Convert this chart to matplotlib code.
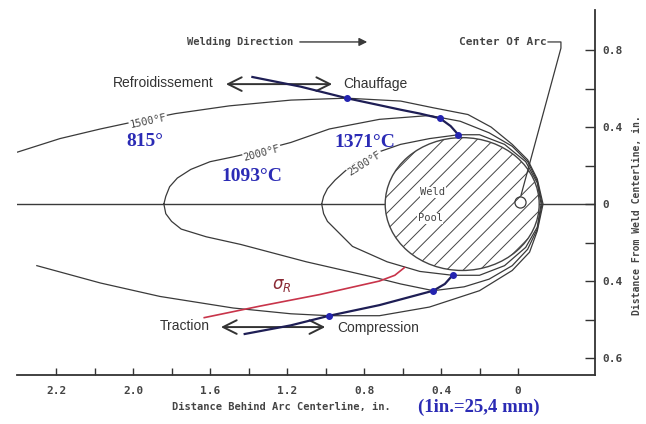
import matplotlib.pyplot as plt
from matplotlib.patches import Ellipse

# distances in inches: d = behind arc centerline, w = from weld centerline
iso1500_d = [2.60, 2.38, 2.17, 2.03, 1.78, 1.50, 1.18, 0.89, 0.61, 0.44, 0.26, 0.14, 0.03, -0.05,
             -0.10, -0.13, -0.10, -0.06, 0.03, 0.20, 0.46, 0.72, 0.98, 1.18, 1.48, 1.86, 2.17, 2.50]
iso1500_w = [0.27, 0.34, 0.39, 0.42, 0.47, 0.51, 0.54, 0.55, 0.535, 0.50, 0.465, 0.40, 0.31, 0.23,
             0.13, 0.0, -0.14, -0.25, -0.345, -0.45, -0.535, -0.58, -0.58, -0.57, -0.54, -0.48, -0.41, -0.32]

iso2000_d = [1.84, 1.83, 1.81, 1.77, 1.70, 1.60, 1.48, 1.33, 1.18, 0.98, 0.72, 0.46, 0.30, 0.15, 0.03,
             -0.05, -0.10, -0.125, -0.10, -0.05, 0.03, 0.15, 0.28, 0.44, 0.61, 0.75, 1.10, 1.44, 1.62,
             1.75, 1.80, 1.83, 1.84]
iso2000_w = [0.0, 0.04, 0.09, 0.135, 0.18, 0.22, 0.245, 0.28, 0.32, 0.39, 0.44, 0.46, 0.43, 0.37, 0.30,
             0.22, 0.12, 0.0, -0.13, -0.235, -0.32, -0.39, -0.43, -0.45, -0.415, -0.38, -0.30, -0.21, -0.17,
             -0.13, -0.09, -0.05, 0.0]

iso2500_d = [1.02, 1.01, 0.99, 0.95, 0.90, 0.85, 0.74, 0.61, 0.46, 0.31, 0.20, 0.07, -0.04, -0.10,
             -0.12, -0.10, -0.04, 0.07, 0.20, 0.34, 0.51, 0.68, 0.86, 0.94, 0.99, 1.01, 1.02]
iso2500_w = [0.0, 0.04, 0.08, 0.125, 0.17, 0.21, 0.265, 0.31, 0.34, 0.36, 0.36, 0.31, 0.22, 0.11,
             0.0, -0.12, -0.225, -0.32, -0.37, -0.37, -0.35, -0.30, -0.22, -0.14, -0.09, -0.05, 0.0]

# weld pool
pool_center = (0.29, 0.0)
pool_width = 0.80
pool_height = 0.69

# cooling/heating path (upper) and traction/compression path (lower)
path_up_d = [1.38, 1.13, 0.89, 0.61, 0.51, 0.405, 0.35, 0.31]
path_up_w = [0.66, 0.61, 0.55, 0.49, 0.47, 0.445, 0.405, 0.36]
path_lo_d = [1.42, 1.18, 0.98, 0.72, 0.44, 0.38, 0.34]
path_lo_w = [-0.675, -0.63, -0.58, -0.525, -0.45, -0.415, -0.37]
cross_up_d = [0.89, 0.405, 0.31]
cross_up_w = [0.55, 0.445, 0.36]
cross_lo_d = [0.98, 0.44, 0.34]
cross_lo_w = [-0.58, -0.45, -0.37]

# residual stress line
sigma_d = [1.63, 1.34, 1.03, 0.72, 0.64, 0.59]
sigma_w = [-0.59, -0.53, -0.47, -0.40, -0.37, -0.33]

arc_center = (-0.01, 0.01)
arc_leader_d = [-0.156, -0.223, -0.223, -0.016]
arc_leader_w = [0.842, 0.842, 0.81, 0.047]

xticks_major = [2.4, 2.0, 1.6, 1.2, 0.8, 0.4, 0.0]
xtick_labels = ['2.2', '2.0', '1.6', '1.2', '0.8', '0.4', '0']
xticks_minor = [2.2, 1.8, 1.4, 1.0, 0.6, 0.2]
yticks_major = [0.8, 0.4, 0.0, -0.4, -0.8]
ytick_labels = ['0.8', '0.4', '0', '0.4', '0.6']
yticks_minor = [0.6, 0.2, -0.2, -0.6]

mono = 'DejaVu Sans Mono'
sans = 'Liberation Sans'
serif = 'Liberation Serif'
ink = '#3a3a3a'
blue = '#2b2bb5'
plt.rcParams['hatch.linewidth'] = 0.7

fig = plt.figure(figsize=(6.46, 4.24), dpi=100)
ax = fig.add_axes([17/646, 49/424, 578/646, 365/424])
ax.set_xlim(2.603, -0.40)
ax.set_ylim(-0.888, 1.008)

for s in ['top', 'left']:
    ax.spines[s].set_visible(False)
for s in ['bottom', 'right']:
    ax.spines[s].set_linewidth(1.3)
    ax.spines[s].set_color('#333333')

ax.axhline(0, color=ink, lw=1.0, zorder=1)

pool = Ellipse(pool_center, pool_width, pool_height, facecolor='white',
               edgecolor='#444444', hatch='//', lw=1.0, zorder=2)
ax.add_patch(pool)

for dd, ww in [(iso1500_d, iso1500_w), (iso2000_d, iso2000_w), (iso2500_d, iso2500_w)]:
    ax.plot(dd, ww, color=ink, lw=0.9, zorder=3, solid_joinstyle='round')

ax.plot(sigma_d, sigma_w, color='#c8344a', lw=1.2, zorder=4)
ax.plot(path_up_d, path_up_w, color='#1e1e55', lw=1.6, zorder=5)
ax.plot(path_lo_d, path_lo_w, color='#1e1e55', lw=1.6, zorder=5)
ax.plot(cross_up_d, cross_up_w, 'o', color='#2424b0', ms=4, zorder=6)
ax.plot(cross_lo_d, cross_lo_w, 'o', color='#2424b0', ms=4, zorder=6)

# centre of arc marker and leader
ax.plot(*arc_center, 'o', mfc='none', mec=ink, ms=8, mew=0.9, zorder=6)
ax.plot(arc_leader_d, arc_leader_w, color=ink, lw=0.9, zorder=6)
ax.text(-0.15, 0.842, 'Center Of Arc', ha='right', va='center', family=mono,
        fontsize=8, weight='bold', color='#444444')

# welding direction
ax.text(1.719, 0.842, 'Welding Direction', ha='left', va='center', family=mono,
        fontsize=7.5, weight='bold', color='#444444')
ax.annotate('', xy=(0.769, 0.842), xytext=(1.148, 0.842),
            arrowprops=dict(arrowstyle='-|>', color=ink, lw=1.0, mutation_scale=12))

# cooling / heating
ax.annotate('', xy=(0.951, 0.623), xytext=(1.532, 0.623),
            arrowprops=dict(arrowstyle='<->,head_length=0.7,head_width=0.35',
                            color='#333333', lw=1.4, mutation_scale=14))
ax.text(1.584, 0.628, 'Refroidissement', ha='right', va='center', family=sans,
        fontsize=10, color='#333333')
ax.text(0.909, 0.623, 'Chauffage', ha='left', va='center', family=sans,
        fontsize=10, color='#333333')

# traction / compression
ax.annotate('', xy=(0.987, -0.639), xytext=(1.558, -0.639),
            arrowprops=dict(arrowstyle='<->,head_length=0.7,head_width=0.35',
                            color='#333333', lw=1.4, mutation_scale=14))
ax.text(1.60, -0.634, 'Traction', ha='right', va='center', family=sans,
        fontsize=10, color='#333333')
ax.text(0.940, -0.644, 'Compression', ha='left', va='center', family=sans,
        fontsize=10, color='#333333')

# isotherm labels
box = dict(facecolor='white', edgecolor='none', pad=0.5)
ax.text(1.922, 0.431, '1500°F', ha='center', va='center', rotation=12, family=mono,
        fontsize=7.5, color='#444444', bbox=box, zorder=7)
ax.text(1.330, 0.265, '2000°F', ha='center', va='center', rotation=15, family=mono,
        fontsize=7.5, color='#444444', bbox=box, zorder=7)
ax.text(0.795, 0.213, '2500°F', ha='center', va='center', rotation=32, family=mono,
        fontsize=7.5, color='#444444', bbox=box, zorder=7)
ax.text(1.938, 0.327, '815°', ha='center', va='center', family=serif,
        fontsize=14, weight='bold', color=blue, zorder=7)
ax.text(1.382, 0.145, '1093°C', ha='center', va='center', family=serif,
        fontsize=14, weight='bold', color=blue, zorder=7)
ax.text(0.795, 0.322, '1371°C', ha='center', va='center', family=serif,
        fontsize=14, weight='bold', color=blue, zorder=7)

ax.text(0.442, 0.062, 'Weld', ha='center', va='center', family=mono, fontsize=7.5,
        color='#444444', bbox=dict(facecolor='white', edgecolor='none', pad=0.3), zorder=7)
ax.text(0.457, -0.073, 'Pool', ha='center', va='center', family=mono, fontsize=7.5,
        color='#444444', bbox=dict(facecolor='white', edgecolor='none', pad=0.3), zorder=7)
ax.text(1.226, -0.421, r'$\sigma_R$', ha='center', va='center', fontsize=12,
        color='#8a2a35', zorder=7)

# axes ticks
ax.set_xticks(xticks_major)
ax.set_xticklabels(xtick_labels)
ax.set_xticks(xticks_minor, minor=True)
ax.yaxis.tick_right()
ax.set_yticks(yticks_major)
ax.set_yticklabels(ytick_labels)
ax.set_yticks(yticks_minor, minor=True)
ax.tick_params(axis='x', which='both', direction='in', length=5, width=1.0,
               color='#333333', pad=8, labelsize=8, labelcolor='#444444')
ax.tick_params(axis='y', which='both', direction='in', length=7, width=1.0,
               color='#333333', pad=5, labelsize=8, labelcolor='#444444')
for lab in ax.get_xticklabels() + ax.get_yticklabels():
    lab.set_family(mono)
    lab.set_weight('bold')

fig.text(281/646, 1 - 407/424, 'Distance Behind Arc Centerline, in.', ha='center', va='center',
         family=mono, fontsize=7.5, weight='bold', color='#444444')
fig.text(479/646, 1 - 407/424, '(1in.=25,4 mm)', ha='center', va='center',
         family=serif, fontsize=13.5, weight='bold', color=blue)
fig.text(637/646, 1 - 215/424, 'Distance From Weld Centerline, in.', ha='center', va='center',
         rotation=90, family=mono, fontsize=7, weight='bold', color='#444444')

fig.savefig('out.png', dpi=100)
